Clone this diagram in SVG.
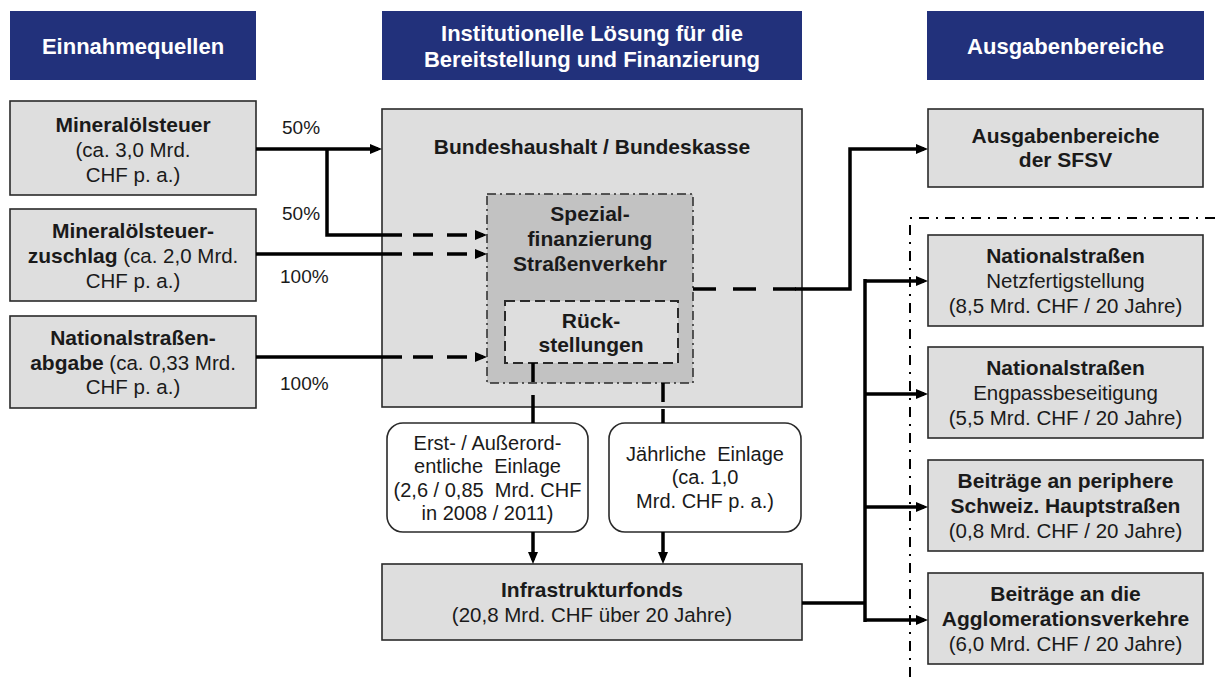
<svg xmlns="http://www.w3.org/2000/svg" width="1215" height="681" viewBox="0 0 1215 681">
  <style>
    .hdr { fill: #22317b; }
    .hdr-t { fill: #ffffff; font-family: "Liberation Sans", Arial, sans-serif; font-weight: bold; font-size: 22px; text-anchor: middle; }
    .box { fill: #dedede; stroke: #2a2a2a; stroke-width: 1.6; }
    .inner { fill: #c2c2c2; stroke: #2a2a2a; stroke-width: 1.5; stroke-dasharray: 9 4 2 4; }
    .res { fill: #dedede; stroke: #2a2a2a; stroke-width: 2; stroke-dasharray: 10 5; }
    .rbox { fill: #ffffff; stroke: #2a2a2a; stroke-width: 1.6; }
    .b { font-family: "Liberation Sans", Arial, sans-serif; font-weight: bold; font-size: 21px; fill: #1a1a1a; text-anchor: middle; }
    .r { font-family: "Liberation Sans", Arial, sans-serif; font-size: 20.5px; fill: #1a1a1a; text-anchor: middle; }
    .rs { font-family: "Liberation Sans", Arial, sans-serif; font-size: 20px; fill: #1a1a1a; text-anchor: middle; }
    .pct { font-family: "Liberation Sans", Arial, sans-serif; font-size: 19px; fill: #1a1a1a; }
    .ln { fill: none; stroke: #000000; stroke-width: 3.5; }
    .dash { fill: none; stroke: #000000; stroke-width: 3.5; stroke-dasharray: 20 14; }
    .sep { fill: none; stroke: #000000; stroke-width: 2; stroke-dasharray: 10 7 2 7; }
  </style>
  <defs>
    <marker id="arr" viewBox="0 0 12 10" refX="8" refY="5" markerWidth="12" markerHeight="10" markerUnits="userSpaceOnUse" orient="auto">
      <path d="M0,0 L12,5 L0,10 z" fill="#000000"/>
    </marker>
  </defs>

  <rect width="1215" height="681" fill="#ffffff"/>

  <!-- column headers -->
  <g id="hdr-einnahmen">
    <rect class="hdr" x="10" y="11" width="246" height="69"/>
    <text class="hdr-t" x="133" y="54">Einnahmequellen</text>
  </g>
  <g id="hdr-institution">
    <rect class="hdr" x="382" y="11" width="420" height="69"/>
    <text class="hdr-t" x="592" y="41">Institutionelle Lösung für die</text>
    <text class="hdr-t" x="592" y="67">Bereitstellung und Finanzierung</text>
  </g>
  <g id="hdr-ausgaben">
    <rect class="hdr" x="927" y="11" width="277" height="69"/>
    <text class="hdr-t" x="1065.5" y="54">Ausgabenbereiche</text>
  </g>

  <!-- separator around the infrastructure fund spending areas -->
  <path class="sep" d="M1215,218 H910 V681"/>

  <!-- revenue sources -->
  <g id="src-mineraloelsteuer">
    <rect class="box" x="10" y="101" width="246" height="94"/>
    <text class="b" x="133" y="132">Mineralölsteuer</text>
    <text class="r" x="133" y="157">(ca. 3,0 Mrd.</text>
    <text class="r" x="133" y="182">CHF p. a.)</text>
  </g>
  <g id="src-zuschlag">
    <rect class="box" x="10" y="209" width="246" height="92"/>
    <text class="b" x="133" y="238">Mineralölsteuer-</text>
    <text class="r" x="133" y="263"><tspan font-weight="bold" font-size="21px">zuschlag</tspan> (ca. 2,0 Mrd.</text>
    <text class="r" x="133" y="288">CHF p. a.)</text>
  </g>
  <g id="src-abgabe">
    <rect class="box" x="10" y="316" width="246" height="92"/>
    <text class="b" x="133" y="345">Nationalstraßen-</text>
    <text class="r" x="133" y="370"><tspan font-weight="bold" font-size="21px">abgabe</tspan> (ca. 0,33 Mrd.</text>
    <text class="r" x="133" y="394">CHF p. a.)</text>
  </g>

  <!-- federal budget with special financing and reserves -->
  <g id="bundeshaushalt">
    <rect class="box" x="382" y="109" width="420" height="298"/>
    <text class="b" x="592" y="154">Bundeshaushalt / Bundeskasse</text>
  </g>
  <g id="spezialfinanzierung">
    <rect class="inner" x="487" y="194" width="206" height="189"/>
    <text class="b" x="590" y="221">Spezial-</text>
    <text class="b" x="590" y="246">finanzierung</text>
    <text class="b" x="590" y="271">Straßenverkehr</text>
  </g>
  <g id="rueckstellungen">
    <rect class="res" x="505" y="301" width="173" height="62"/>
    <text class="b" x="591" y="328">Rück-</text>
    <text class="b" x="591" y="352">stellungen</text>
  </g>

  <!-- contributions -->
  <g id="einlage-einmalig">
    <rect class="rbox" x="387" y="423" width="201" height="109" rx="16" ry="16"/>
    <text class="rs" x="487.5" y="450">Erst- / Außerord-</text>
    <text class="rs" x="487.5" y="473" xml:space="preserve">entliche  Einlage</text>
    <text class="rs" x="487.5" y="497" xml:space="preserve">(2,6 / 0,85  Mrd. CHF</text>
    <text class="rs" x="487.5" y="520">in 2008 / 2011)</text>
  </g>
  <g id="einlage-jaehrlich">
    <rect class="rbox" x="609" y="423" width="192" height="109" rx="16" ry="16"/>
    <text class="rs" x="705" y="461" xml:space="preserve">Jährliche  Einlage</text>
    <text class="rs" x="705" y="484">(ca. 1,0</text>
    <text class="rs" x="705" y="508">Mrd. CHF p. a.)</text>
  </g>

  <g id="infrastrukturfonds">
    <rect class="box" x="382" y="564" width="420" height="76"/>
    <text class="b" x="592" y="597">Infrastrukturfonds</text>
    <text class="r" x="592" y="622">(20,8 Mrd. CHF über 20 Jahre)</text>
  </g>

  <!-- spending areas -->
  <g id="sfsv">
    <rect class="box" x="928" y="109" width="275" height="78"/>
    <text class="b" x="1065.5" y="143">Ausgabenbereiche</text>
    <text class="b" x="1065.5" y="167">der SFSV</text>
  </g>
  <g id="ns-netz">
    <rect class="box" x="928" y="235" width="275" height="91"/>
    <text class="b" x="1065.5" y="263">Nationalstraßen</text>
    <text class="r" x="1065.5" y="288">Netzfertigstellung</text>
    <text class="r" x="1065.5" y="313">(8,5 Mrd. CHF / 20 Jahre)</text>
  </g>
  <g id="ns-engpass">
    <rect class="box" x="928" y="347" width="275" height="91"/>
    <text class="b" x="1065.5" y="375">Nationalstraßen</text>
    <text class="r" x="1065.5" y="400">Engpassbeseitigung</text>
    <text class="r" x="1065.5" y="425">(5,5 Mrd. CHF / 20 Jahre)</text>
  </g>
  <g id="hauptstrassen">
    <rect class="box" x="928" y="460" width="275" height="91"/>
    <text class="b" x="1065.5" y="488">Beiträge an periphere</text>
    <text class="b" x="1065.5" y="513">Schweiz. Hauptstraßen</text>
    <text class="r" x="1065.5" y="538">(0,8 Mrd. CHF / 20 Jahre)</text>
  </g>
  <g id="agglomeration">
    <rect class="box" x="928" y="573" width="275" height="91"/>
    <text class="b" x="1065.5" y="601">Beiträge an die</text>
    <text class="b" x="1065.5" y="626">Agglomerationsverkehre</text>
    <text class="r" x="1065.5" y="651">(6,0 Mrd. CHF / 20 Jahre)</text>
  </g>

  <!-- share labels -->
  <g id="labels">
    <text class="pct" x="282" y="134">50%</text>
    <text class="pct" x="282" y="220">50%</text>
    <text class="pct" x="280" y="283">100%</text>
    <text class="pct" x="280" y="390">100%</text>
  </g>

  <!-- connectors -->
  <g id="connectors">
    <path class="ln" d="M256,149 H378" marker-end="url(#arr)"/>
    <path class="ln" d="M327,149 V235 H402"/>
    <path class="dash" d="M413,235 H483" marker-end="url(#arr)"/>
    <path class="ln" d="M256,254 H402"/>
    <path class="dash" d="M413,254 H483" marker-end="url(#arr)"/>
    <path class="ln" d="M256,357 H402"/>
    <path class="dash" d="M413,357 H483" marker-end="url(#arr)"/>

    <path class="ln" d="M693,289 H800" stroke-dasharray="23 17"/>
    <path class="ln" d="M795,289 H850 V149 H924" marker-end="url(#arr)"/>

    <path class="ln" d="M533,363 V423" stroke-dasharray="19 13 100"/>
    <path class="ln" d="M663,383 V423" stroke-dasharray="19 7 100"/>

    <path class="ln" d="M533,532 V560" marker-end="url(#arr)"/>
    <path class="ln" d="M663,532 V560" marker-end="url(#arr)"/>

    <path class="ln" d="M802,603 H865"/>
    <path class="ln" d="M865,279 V622" stroke-width="4.5"/>
    <path class="ln" d="M865,281 H924" marker-end="url(#arr)"/>
    <path class="ln" d="M865,394 H924" marker-end="url(#arr)"/>
    <path class="ln" d="M865,507 H924" marker-end="url(#arr)"/>
    <path class="ln" d="M865,620 H924" marker-end="url(#arr)"/>
  </g>
</svg>
